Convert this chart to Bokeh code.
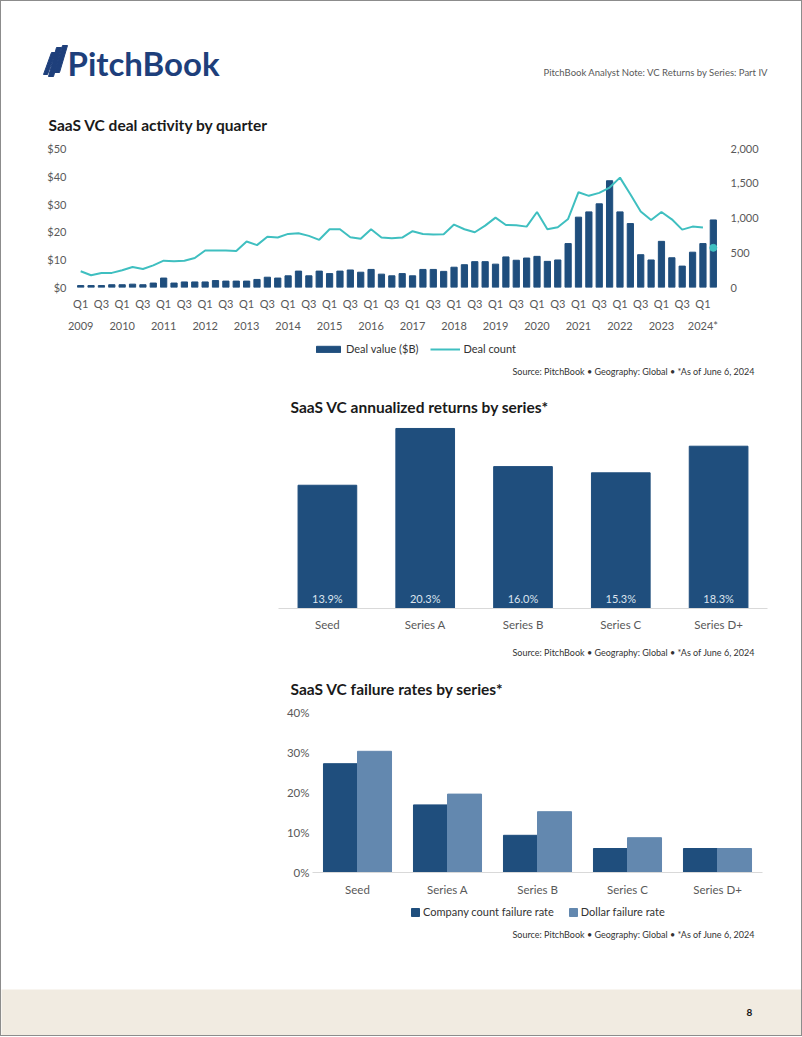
from bokeh.plotting import figure
from bokeh.models import (Range1d, LinearAxis, FixedTicker, Legend, LegendItem,
                          ColumnDataSource, FactorRange, NumeralTickFormatter,
                          PrintfTickFormatter, LabelSet)
from bokeh.layouts import column
from bokeh.embed import file_html
from bokeh.resources import INLINE
from bokeh.core.properties import value
from bokeh.transform import dodge

# ---------------- data ----------------
years = ["2009", "2010", "2011", "2012", "2013", "2014", "2015", "2016",
         "2017", "2018", "2019", "2020", "2021", "2022", "2023", "2024*"]
quarter_names = ["Q1", "Q2", "Q3", "Q4"]

deal_value = [0.7, 0.7, 0.7, 1.0,
              1.0, 1.2, 1.0, 1.6,
              3.4, 1.6, 2.0, 2.0,
              2.0, 2.5, 2.3, 2.3,
              2.3, 2.9, 3.7, 3.4,
              4.2, 5.9, 4.2, 5.9,
              5.0, 5.9, 6.3, 5.5,
              6.5, 4.8, 4.2, 5.0,
              4.2, 6.5, 6.5, 5.8,
              7.3, 8.2, 9.3, 9.3,
              8.4, 11.0, 9.8, 10.6,
              11.2, 9.4, 9.9, 15.8,
              25.3, 27.2, 30.1, 38.4,
              27.2, 23.0, 11.8, 9.9,
              16.6, 10.7, 7.7, 12.7,
              15.8, 24.3]

deal_count = [233, 176, 210, 210,
              248, 295, 267, 319,
              386, 376, 386, 424,
              533, 533, 533, 524,
              662, 610, 729, 719,
              771, 781, 743, 686,
              838, 838, 724, 700,
              838, 719, 710, 719,
              810, 771, 762, 767,
              905, 838, 795, 890,
              1005, 900, 895, 876,
              1086, 838, 867, 986,
              1371, 1319, 1362, 1438,
              1581, 1343, 1095, 971,
              1086, 981, 833, 876,
              862, 571]

series_cats = ["Seed", "Series A", "Series B", "Series C", "Series D+"]
annual_returns = [13.9, 20.3, 16.0, 15.3, 18.3]
company_fail = [27.2, 16.9, 9.3, 6.0, 6.0]
dollar_fail = [30.3, 19.6, 15.2, 8.7, 6.0]

# ---------------- style ----------------
W = 800          # inner width (a 1px page border is added around the whole page)
DARK = "#1F4E7D"
LIGHT = "#6388AF"
TEAL = "#3FBFC0"
NAVY = "#1E3F7B"
TICK = "#595959"
BODY = "Lato"
TITLE_FONT = "Lato"
SRC = "Source: PitchBook  \u2022  Geography: Global  \u2022  *As of June 6, 2024"


def text_fig(y0, h, bg="white"):
    # frame covers the whole figure; data units == page pixels
    f = figure(width=W, height=h, x_range=Range1d(1, W + 1), y_range=Range1d(y0 + h, y0),
               toolbar_location=None, output_backend="svg", title=None,
               min_border=0, min_border_left=0, min_border_right=0,
               min_border_top=0, min_border_bottom=0,
               x_axis_location=None, y_axis_location=None,
               outline_line_color=None, background_fill_color=bg,
               border_fill_color=bg)
    f.xgrid.visible = False
    f.ygrid.visible = False
    return f


def add_text(f, x, y, txt, size, color="#1a1a1a", font=TITLE_FONT, style="normal"):
    f.text(x=[x], y=[y], text=[txt], text_font=value(font), text_font_size=size,
           text_font_style=style, text_color=color, text_align="left",
           text_baseline="middle")


def style_axis(ax, size="11px"):
    ax.major_label_text_font = BODY
    ax.major_label_text_font_size = size
    ax.major_label_text_color = TICK
    ax.major_tick_line_color = None
    ax.minor_tick_line_color = None
    ax.major_tick_out = 0
    ax.major_tick_in = 0
    ax.minor_tick_out = 0
    ax.minor_tick_in = 0
    ax.axis_line_color = None


def legend_in(f, items, loc, gw, gh, spacing):
    leg = Legend(items=items, location=loc, orientation="horizontal",
                 glyph_width=gw, glyph_height=gh, label_standoff=3, spacing=spacing,
                 padding=0, margin=0, label_text_font=BODY, label_text_font_size="11px",
                 label_text_color="#333333", border_line_color=None,
                 background_fill_alpha=0, click_policy="none")
    f.add_layout(leg, "center")


# ---------------- header (page y 1..140) ----------------
head = text_fig(1, 139)
logo_x = [[43, 47, 55, 51], [48, 53, 61, 56], [54, 59, 67, 62]]
logo_y = [[74, 74, 52, 52], [76, 76, 47, 47], [72, 72, 45, 45]]
head.patches(logo_x, logo_y, color=NAVY)
add_text(head, 67, 62, "PitchBook", "33px", color=NAVY, font="Lato", style="bold")
add_text(head, 543, 72, "PitchBook Analyst Note: VC Returns by Series: Part IV",
         "9.5px", color=TICK, font=BODY)
add_text(head, 48, 124, "SaaS VC deal activity by quarter", "15.5px", style="bold")

# ---------------- chart 1 (page y 140..338) ----------------
n = len(deal_value)
xs = list(range(n))
src1 = ColumnDataSource(dict(x=xs, val=deal_value, cnt=deal_count))

c1 = figure(width=W, height=198, frame_width=643, frame_height=139,
            x_range=Range1d(-0.5, n - 0.5), y_range=Range1d(0, 50),
            toolbar_location=None, output_backend="svg", title=None,
            min_border_top=8, min_border_bottom=51, min_border_left=74,
            min_border_right=83, outline_line_color=None)
c1.extra_y_ranges = {"count": Range1d(0, 2000)}
c1.xgrid.visible = False
c1.ygrid.visible = False

c1.vbar(x="x", top="val", width=0.6, source=src1, color=DARK)
c1.line(xs[:-1], deal_count[:-1], y_range_name="count", color=TEAL, line_width=2)
c1.scatter([xs[-1]], [deal_count[-1]], y_range_name="count", size=7, color=TEAL)

c1.yaxis.ticker = FixedTicker(ticks=[0, 10, 20, 30, 40, 50])
c1.yaxis.formatter = PrintfTickFormatter(format="$%d")
style_axis(c1.yaxis[0])
c1.yaxis.major_label_standoff = 9

ra = LinearAxis(y_range_name="count", ticker=FixedTicker(ticks=[0, 500, 1000, 1500, 2000]),
                formatter=NumeralTickFormatter(format="0,0"))
style_axis(ra)
ra.major_label_standoff = 12
c1.add_layout(ra, "right")

qticks = [i for i in xs if i % 4 in (0, 2)]
c1.xaxis.ticker = FixedTicker(ticks=qticks)
c1.xaxis.major_label_overrides = {i: quarter_names[i % 4] for i in qticks}
style_axis(c1.xaxis[0])
c1.xaxis.major_label_standoff = 9

yticks = [i for i in xs if i % 4 == 0]
ya = LinearAxis(ticker=FixedTicker(ticks=yticks),
                major_label_overrides={i: years[i // 4] for i in yticks})
style_axis(ya)
ya.major_label_standoff = 6
c1.add_layout(ya, "below")

# ---------------- mid 1 (page y 338..418): legend, source, title ----------------
mid1 = text_fig(338, 80)
# hidden copies of the chart-1 series, only used for the legend swatches
lb1 = mid1.vbar(x=xs, top=deal_value, width=0.6, color=DARK, visible=False)
ll1 = mid1.line(x=xs, y=deal_count, color=TEAL, line_width=2, visible=False)
legend_in(mid1, [LegendItem(label="Deal value ($B)", renderers=[lb1]),
                 LegendItem(label="Deal count", renderers=[ll1])],
          (312, 63), 30, 8, 12)
add_text(mid1, 512, 371, SRC, "9px", color="#333333", font="Lato")
add_text(mid1, 290, 406, "SaaS VC annualized returns by series*", "15.5px", style="bold")

# ---------------- chart 2 (page y 418..640) ----------------
src2 = ColumnDataSource(dict(cat=series_cats, v=annual_returns,
                             lab=[f"{v:.1f}%" for v in annual_returns]))
c2 = figure(width=W, height=222, frame_width=489, frame_height=188,
            x_range=FactorRange(*series_cats), y_range=Range1d(0, 21.2),
            toolbar_location=None, output_backend="svg", title=None,
            min_border_top=2, min_border_bottom=32, min_border_left=277,
            min_border_right=34, outline_line_color=None, y_axis_location=None)
c2.xgrid.visible = False
c2.ygrid.visible = False
c2.vbar(x="cat", top="v", width=0.6, source=src2, color=DARK)
c2.add_layout(LabelSet(x="cat", y=0, text="lab", source=src2, y_offset=4,
                       text_align="center", text_baseline="bottom",
                       text_font=value(BODY), text_font_size="11px",
                       text_color="#DCE4EE"))
style_axis(c2.xaxis[0], "11.5px")
c2.xaxis.axis_line_color = "#D9D9D9"
c2.xaxis.major_label_standoff = 9

# ---------------- mid 2 (page y 640..702) ----------------
mid2 = text_fig(640, 62)
add_text(mid2, 512, 652, SRC, "9px", color="#333333", font="Lato")
add_text(mid2, 290, 688, "SaaS VC failure rates by series*", "15.5px", style="bold")

# ---------------- chart 3 (page y 702..900) ----------------
src3 = ColumnDataSource(dict(cat=series_cats, a=company_fail, b=dollar_fail))
c3 = figure(width=W, height=198, frame_width=450, frame_height=160,
            x_range=FactorRange(*series_cats), y_range=Range1d(0, 40),
            toolbar_location=None, output_backend="svg", title=None,
            min_border_top=10, min_border_bottom=28, min_border_left=311,
            min_border_right=39, outline_line_color=None)
c3.xgrid.visible = False
c3.ygrid.visible = False
c3.vbar(x=dodge("cat", -0.189, range=c3.x_range), top="a", width=0.378,
        source=src3, color=DARK)
c3.vbar(x=dodge("cat", 0.189, range=c3.x_range), top="b", width=0.378,
        source=src3, color=LIGHT)
c3.yaxis.ticker = FixedTicker(ticks=[0, 10, 20, 30, 40])
c3.yaxis.formatter = PrintfTickFormatter(format="%d%%")
style_axis(c3.yaxis[0], "11.5px")
c3.yaxis.major_label_standoff = 3
style_axis(c3.xaxis[0], "11.5px")
c3.xaxis.axis_line_color = "#D9D9D9"
c3.xaxis.major_label_standoff = 10

# ---------------- mid 3 (page y 900..989): legend, source ----------------
mid3 = text_fig(900, 89)
lb3a = mid3.vbar(x=list(range(len(series_cats))), top=company_fail, width=0.6,
                 color=DARK, visible=False)
lb3b = mid3.vbar(x=list(range(len(series_cats))), top=dollar_fail, width=0.6,
                 color=LIGHT, visible=False)
legend_in(mid3, [LegendItem(label="Company count failure rate", renderers=[lb3a]),
                 LegendItem(label="Dollar failure rate", renderers=[lb3b])],
          (409, 71), 10, 10, 14)
add_text(mid3, 512, 934, SRC, "9px", color="#333333", font="Lato")

# ---------------- footer (page y 989..1035) ----------------
foot = text_fig(989, 46, bg="#F1EBE1")
add_text(foot, 746, 1012, "8", "10px", color="#111111", font="Lato", style="bold")

# each figure in its own column so frames are not aligned with each other
page = column(*[column(f, spacing=0) for f in (head, c1, mid1, c2, mid2, c3, mid3, foot)],
              spacing=0, styles={"border": "1px solid #8C8C8C"})
open("out.html", "w").write(file_html(page, INLINE))
